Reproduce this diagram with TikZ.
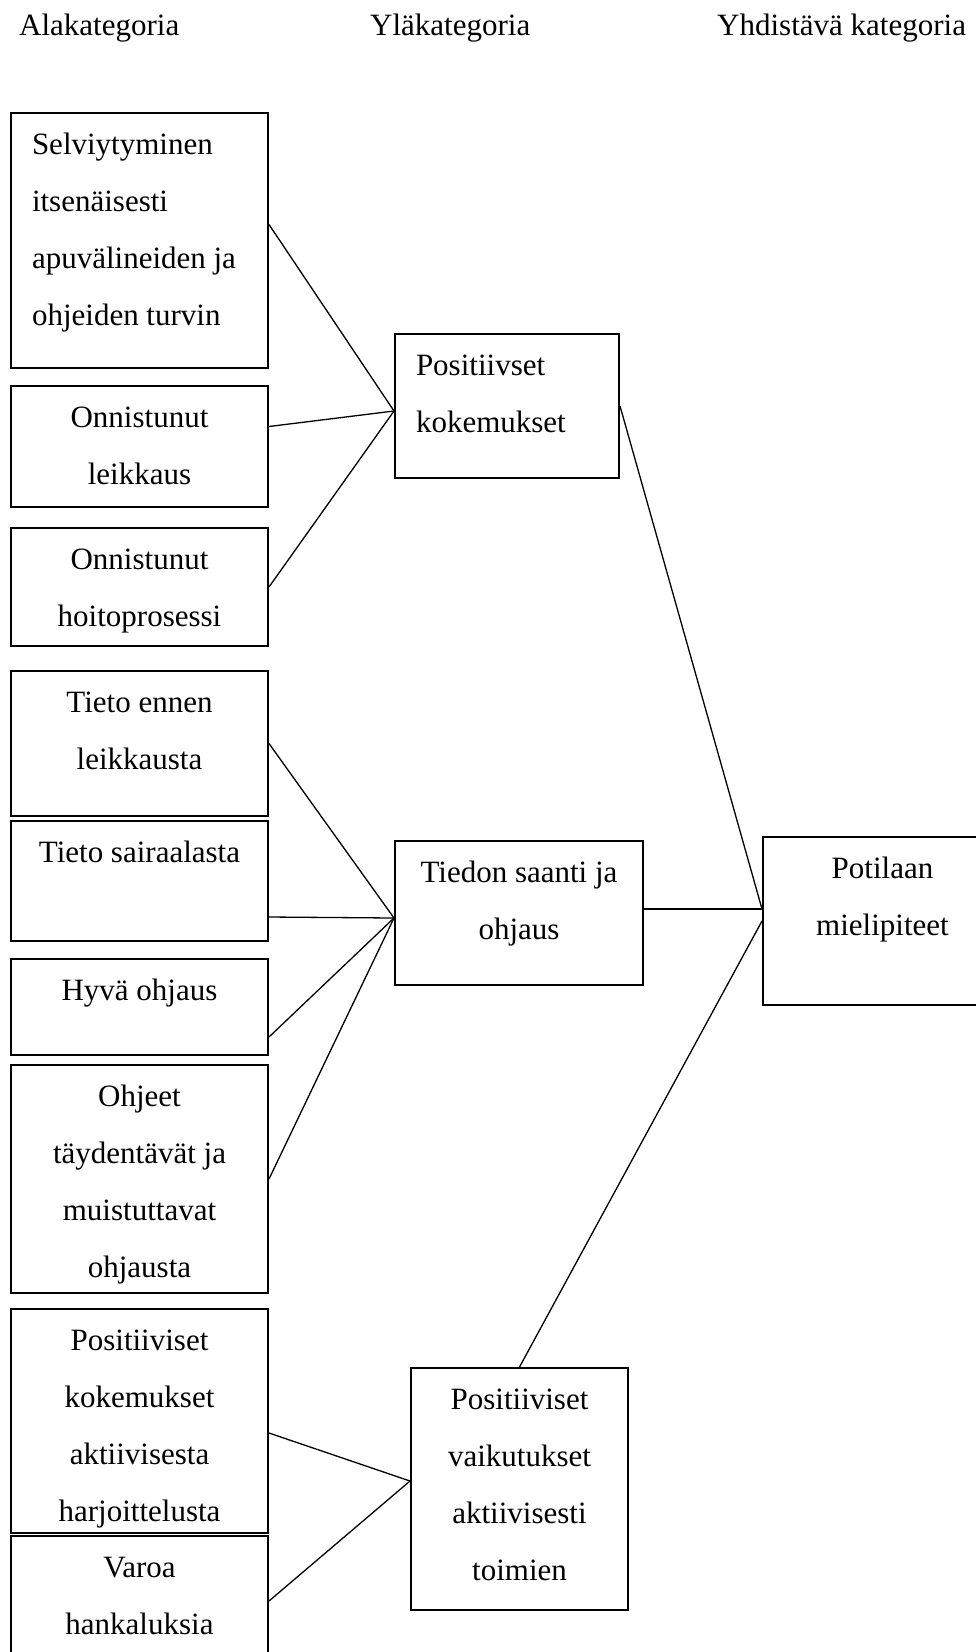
\documentclass[tikz,border=0pt]{standalone}
\usepackage{fontspec}
\setmainfont{Liberation Serif}
\newcommand\boxtext[3]{\parbox[t][#2pt][t]{#1pt}{\centering\rule{0pt}{41pt}#3}}
\newcommand\boxtextleft[3]{\parbox[t][#2pt][t]{#1pt}{\raggedright\leftskip=21pt\rule{0pt}{41pt}#3}}
\begin{document}
\begin{tikzpicture}[x=1pt,y=-1pt,
  box/.style={draw,line width=2pt,inner sep=0pt,anchor=north west},
  head/.style={anchor=base west,inner sep=0pt},
  link/.style={line width=1.3pt},
  font=\fontsize{31}{57}\selectfont]
\useasboundingbox (0,0) rectangle (976,1652);
\node[head] (h1) at (19,35) {Alakategoria};
\node[head] (h2) at (370,35) {Yläkategoria};
\node[head] (h3) at (717,35) {Yhdistävä kategoria};
\node[box] (a1) at (10,112) {\boxtextleft{257}{255}{Selviytyminen\\itsenäisesti\\apuvälineiden ja\\ohjeiden turvin}};
\foreach \n/\y/\h/\t in {a2/385/121/{Onnistunut\\leikkaus}, a3/527/118/{Onnistunut\\hoitoprosessi},
  a4/670/145/{Tieto ennen\\leikkausta}, a5/820/120/{Tieto sairaalasta}, a6/958/96/{Hyvä ohjaus},
  a7/1064/228/{Ohjeet\\täydentävät ja\\muistuttavat\\ohjausta},
  a8/1308/224/{Positiiviset\\kokemukset\\aktiivisesta\\harjoittelusta}, a9/1535/130/{Varoa\\hankaluksia}}
{
  \node[box] (\n) at (10,\y) {\boxtext{257}{\h}{\t}};
}
\node[box] (b1) at (394,333) {\boxtextleft{224}{144}{Positiivset\\kokemukset}};
\node[box] (b2) at (394,840) {\boxtext{248}{144}{Tiedon saanti ja\\ohjaus}};
\node[box] (b3) at (410,1367) {\boxtext{217}{242}{Positiiviset\\vaikutukset\\aktiivisesti\\toimien}};
\node[box] (c) at (762,836) {\boxtext{239}{168}{Potilaan\\mielipiteet}};
\foreach \n/\s in {a1/16,a2/20,a3/0}
{
  \draw[link] ([yshift=\s pt]\n.east) -- ([yshift=-5pt]b1.west);
}
\foreach \n/\s in {a4/0,a5/-36,a6/-30,a7/0}
{
  \draw[link] ([yshift=\s pt]\n.east) -- ([yshift=-5pt]b2.west);
}
\foreach \n/\s in {a8/-12,a9/0}
{
  \draw[link] ([yshift=\s pt]\n.east) -- ([yshift=8pt]b3.west);
}
\draw[link] (b1.east) -- ([yshift=12pt]c.west);
\draw[link] ([yshift=4pt]b2.east) -- ([yshift=12pt]c.west);
\draw[link] (b3.north) -- (c.west);
\end{tikzpicture}
\end{document}
